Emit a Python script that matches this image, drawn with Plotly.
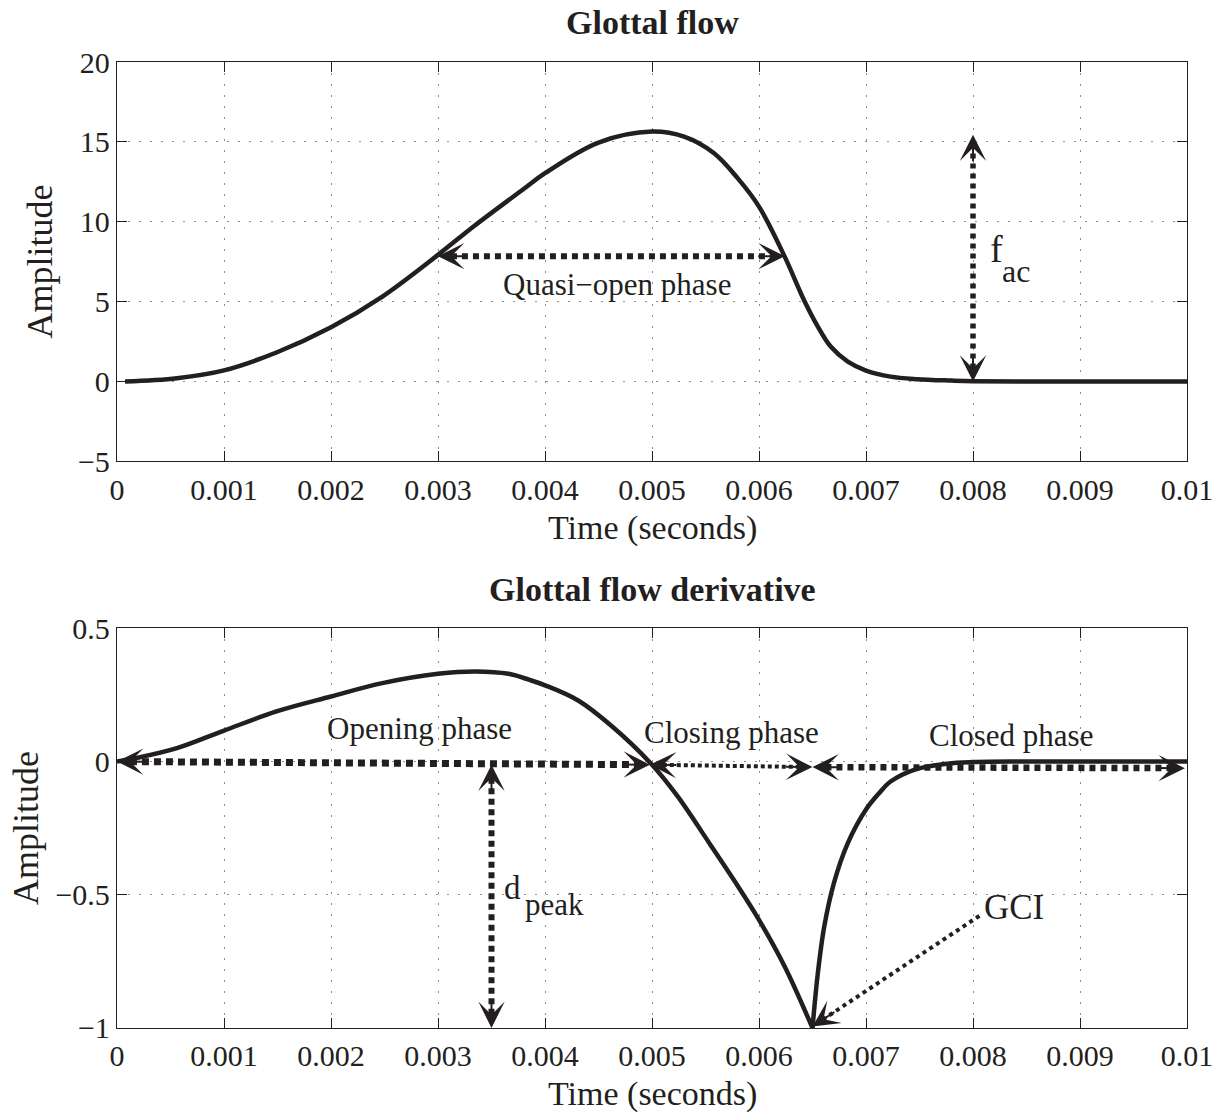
import math
import plotly.graph_objects as go

# ---- Glottal flow over one period (time in seconds) ----
flow_t = [0.000075, 0.00056, 0.001, 0.00149, 0.002, 0.00248, 0.003, 0.00335,
          0.0038, 0.004, 0.0045, 0.005, 0.0053, 0.00558, 0.0058, 0.006,
          0.00624, 0.00642, 0.00655, 0.00667, 0.00683, 0.007, 0.00723,
          0.00748, 0.0078, 0.008, 0.0085, 0.01]
flow_amp = [0.0, 0.21, 0.7, 1.82, 3.4, 5.32, 7.93, 9.8,
            12.05, 13.04, 14.96, 15.65, 15.33, 14.29, 12.73, 10.95,
            7.82, 5.11, 3.44, 2.19, 1.25, 0.69, 0.31,
            0.15, 0.06, 0.02, 0.0, 0.0]

# ---- Glottal flow derivative: open branch up to the GCI ----
deriv_open_t = [0.0, 0.00018, 0.00056, 0.001, 0.00149, 0.002, 0.00248, 0.003,
                0.00335, 0.00366, 0.00385, 0.004, 0.00431, 0.00462, 0.005,
                0.00524, 0.00555, 0.0058, 0.006, 0.00624, 0.0065]
deriv_open_amp = [0.0, 0.013, 0.05, 0.116, 0.188, 0.244, 0.294, 0.329,
                  0.338, 0.329, 0.307, 0.286, 0.229, 0.134, -0.012,
                  -0.131, -0.315, -0.466, -0.594, -0.769, -1.0]

# ---- ... and the return phase after the GCI ----
deriv_return_t = [0.0065, 0.00655, 0.00661, 0.0067, 0.00683, 0.007, 0.00712,
                  0.00723, 0.00745, 0.00776, 0.008, 0.0085, 0.01]
deriv_return_amp = [-1.0, -0.794, -0.619, -0.456, -0.306, -0.18, -0.12,
                    -0.075, -0.031, -0.008, -0.002, 0.0, 0.0]

# ---- Tick marks ----
x_tick_vals = [0, 0.001, 0.002, 0.003, 0.004, 0.005, 0.006, 0.007, 0.008, 0.009, 0.01]
x_tick_text = ["0", "0.001", "0.002", "0.003", "0.004", "0.005", "0.006",
               "0.007", "0.008", "0.009", "0.01"]
flow_tick_vals = [-5, 0, 5, 10, 15, 20]
flow_tick_text = ["\u22125", "0", "5", "10", "15", "20"]
deriv_tick_vals = [-1, -0.5, 0, 0.5]
deriv_tick_text = ["\u22121", "\u22120.5", "0", "0.5"]

# ---- Measurement arrows (start point, end point) ----
quasi_open_x, quasi_open_y = [0.003, 0.00624], [7.85, 7.85]
fac_x, fac_y = [0.008, 0.008], [0.0, 15.45]
opening_x, opening_y = [0.0, 0.00498], [0.0, -0.012]
closing_x, closing_y = [0.00498, 0.0065], [-0.012, -0.021]
closed_x, closed_y = [0.0065, 0.00998], [-0.021, -0.025]
dpeak_x, dpeak_y = [0.0035, 0.0035], [-0.012, -1.0]
gci_x, gci_y = [0.00806, 0.0065], [-0.579, -0.994]

INK = "#231f20"
FONT = "Liberation Serif, Times New Roman, serif"

# plot-area geometry (pixels) used to orient the arrow heads
W, H = 1225, 1117
M_L, M_R, M_T, M_B = 117, 34, 62, 88.7
TOP_DOMAIN = [0.5865, 1.0]
BOT_DOMAIN = [0.0, 0.4138]
X_RANGE = [0, 0.01]
Y1_RANGE = [-5, 20]
Y2_RANGE = [-1, 0.5]
plot_w = W - M_L - M_R
plot_h = H - M_T - M_B
X_PX = plot_w / (X_RANGE[1] - X_RANGE[0])
Y_PX = {
    "1": plot_h * (TOP_DOMAIN[1] - TOP_DOMAIN[0]) / (Y1_RANGE[1] - Y1_RANGE[0]),
    "2": plot_h * (BOT_DOMAIN[1] - BOT_DOMAIN[0]) / (Y2_RANGE[1] - Y2_RANGE[0]),
}

fig = go.Figure()

curve = dict(color=INK, width=4.5, shape="spline", smoothing=1.0)
fig.add_trace(go.Scatter(x=flow_t, y=flow_amp, mode="lines", line=curve,
                         xaxis="x", yaxis="y", hoverinfo="skip"))
fig.add_trace(go.Scatter(x=deriv_open_t, y=deriv_open_amp, mode="lines", line=curve,
                         xaxis="x2", yaxis="y2", hoverinfo="skip"))
fig.add_trace(go.Scatter(x=deriv_return_t, y=deriv_return_amp, mode="lines", line=curve,
                         xaxis="x2", yaxis="y2", hoverinfo="skip"))

annotations = []
HEAD_SIZE = 2.2  # arrowsize multiplier (head scale = arrowwidth * arrowsize)
HEAD_LEN = 28    # px, tail offset of the head-only annotation
TRIM = 13        # px, dotted shaft stops inside the head


def add_arrow(xs, ys, panel, width, dash, start_head=True, end_head=True):
    ypx = Y_PX[panel]
    dxp = (xs[1] - xs[0]) * X_PX
    dyp = -(ys[1] - ys[0]) * ypx
    length = math.hypot(dxp, dyp)
    ux, uy = dxp / length, dyp / length
    x0, y0, x1, y1 = xs[0], ys[0], xs[1], ys[1]
    if start_head:
        x0 += ux * TRIM / X_PX
        y0 -= uy * TRIM / ypx
    if end_head:
        x1 -= ux * TRIM / X_PX
        y1 += uy * TRIM / ypx
    xa = "x" if panel == "1" else "x2"
    ya = "y" if panel == "1" else "y2"
    fig.add_trace(go.Scatter(x=[x0, x1], y=[y0, y1], mode="lines",
                             line=dict(color=INK, width=width, dash=dash),
                             xaxis=xa, yaxis=ya, hoverinfo="skip"))
    head = dict(xref=xa, yref=ya, text="", showarrow=True, arrowhead=3,
                arrowsize=HEAD_SIZE, arrowwidth=2, arrowcolor=INK, standoff=0)
    if end_head:
        annotations.append(dict(head, x=xs[1], y=ys[1],
                                ax=-ux * HEAD_LEN, ay=-uy * HEAD_LEN))
    if start_head:
        annotations.append(dict(head, x=xs[0], y=ys[0],
                                ax=ux * HEAD_LEN, ay=uy * HEAD_LEN))


add_arrow(quasi_open_x, quasi_open_y, "1", 6, "6px,5px")
add_arrow(fac_x, fac_y, "1", 5.5, "5px,5px")
add_arrow(opening_x, opening_y, "2", 7, "7px,5px")
add_arrow(closing_x, closing_y, "2", 4, "4px,3px")
add_arrow(closed_x, closed_y, "2", 6.5, "6px,5px")
add_arrow(dpeak_x, dpeak_y, "2", 6, "6px,4.5px")
add_arrow(gci_x, gci_y, "2", 4, "4px,4px", start_head=False)


def label(text, x, y, panel, size=31):
    xa = "x" if panel == "1" else "x2"
    ya = "y" if panel == "1" else "y2"
    annotations.append(dict(text=text, x=x, y=y, xref=xa, yref=ya, showarrow=False,
                            xanchor="center", yanchor="middle",
                            font=dict(family=FONT, size=size, color=INK)))


label("Quasi\u2212open phase", 0.00467, 6.08, "1")
label("f", 0.00822, 8.3, "1", size=38)
label("ac", 0.0084, 6.9, "1", size=32)
label("Opening phase", 0.002829, 0.123, "2")
label("Closing phase", 0.00574, 0.108, "2")
label("Closed phase", 0.008354, 0.096, "2")
label("d", 0.0037, -0.475, "2", size=33)
label("peak", 0.00409, -0.536, "2")
label("GCI", 0.008385, -0.546, "2", size=35)


def paper_y(px):
    return (H - M_B - px) / plot_h


def paper_x(px):
    return (px - M_L) / plot_w


def paper_text(text, x, y, size, bold=False, angle=0):
    annotations.append(dict(text=f"<b>{text}</b>" if bold else text, x=x, y=y,
                            xref="paper", yref="paper", showarrow=False,
                            xanchor="center", yanchor="middle", textangle=angle,
                            font=dict(family=FONT, size=size, color=INK)))


paper_text("Glottal flow", 0.5, paper_y(22.2), 34, bold=True)
paper_text("Glottal flow derivative", 0.5, paper_y(589.6), 34, bold=True)
paper_text("Time (seconds)", 0.5, paper_y(528), 34)
paper_text("Time (seconds)", 0.5, paper_y(1094), 34)
paper_text("Amplitude", paper_x(39.4), sum(TOP_DOMAIN) / 2, 36, angle=-90)
paper_text("Amplitude", paper_x(25.5), sum(BOT_DOMAIN) / 2, 36, angle=-90)

axis_style = dict(
    showline=True, linecolor=INK, linewidth=1.4, mirror="allticks",
    ticks="inside", ticklen=10, tickwidth=1.2, tickcolor=INK,
    showgrid=True, gridcolor="#8f8f8f", gridwidth=1, griddash="1.5px,9.5px",
    zeroline=False, tickfont=dict(family=FONT, size=30, color=INK),
)
x_style = dict(axis_style, ticklabelstandoff=1)

fig.update_layout(
    width=W, height=H,
    margin=dict(l=M_L, r=M_R, t=M_T, b=M_B, pad=0),
    paper_bgcolor="white", plot_bgcolor="white", showlegend=False,
    font=dict(family=FONT, color=INK),
    xaxis=dict(x_style, domain=[0, 1], range=X_RANGE, anchor="y",
               tickmode="array", tickvals=x_tick_vals, ticktext=x_tick_text),
    yaxis=dict(axis_style, domain=TOP_DOMAIN, range=Y1_RANGE, anchor="x",
               tickmode="array", tickvals=flow_tick_vals, ticktext=flow_tick_text),
    xaxis2=dict(x_style, domain=[0, 1], range=X_RANGE, anchor="y2",
                tickmode="array", tickvals=x_tick_vals, ticktext=x_tick_text),
    yaxis2=dict(axis_style, domain=BOT_DOMAIN, range=Y2_RANGE, anchor="x2",
                tickmode="array", tickvals=deriv_tick_vals, ticktext=deriv_tick_text),
    annotations=annotations,
)

fig.write_html("out.html")
